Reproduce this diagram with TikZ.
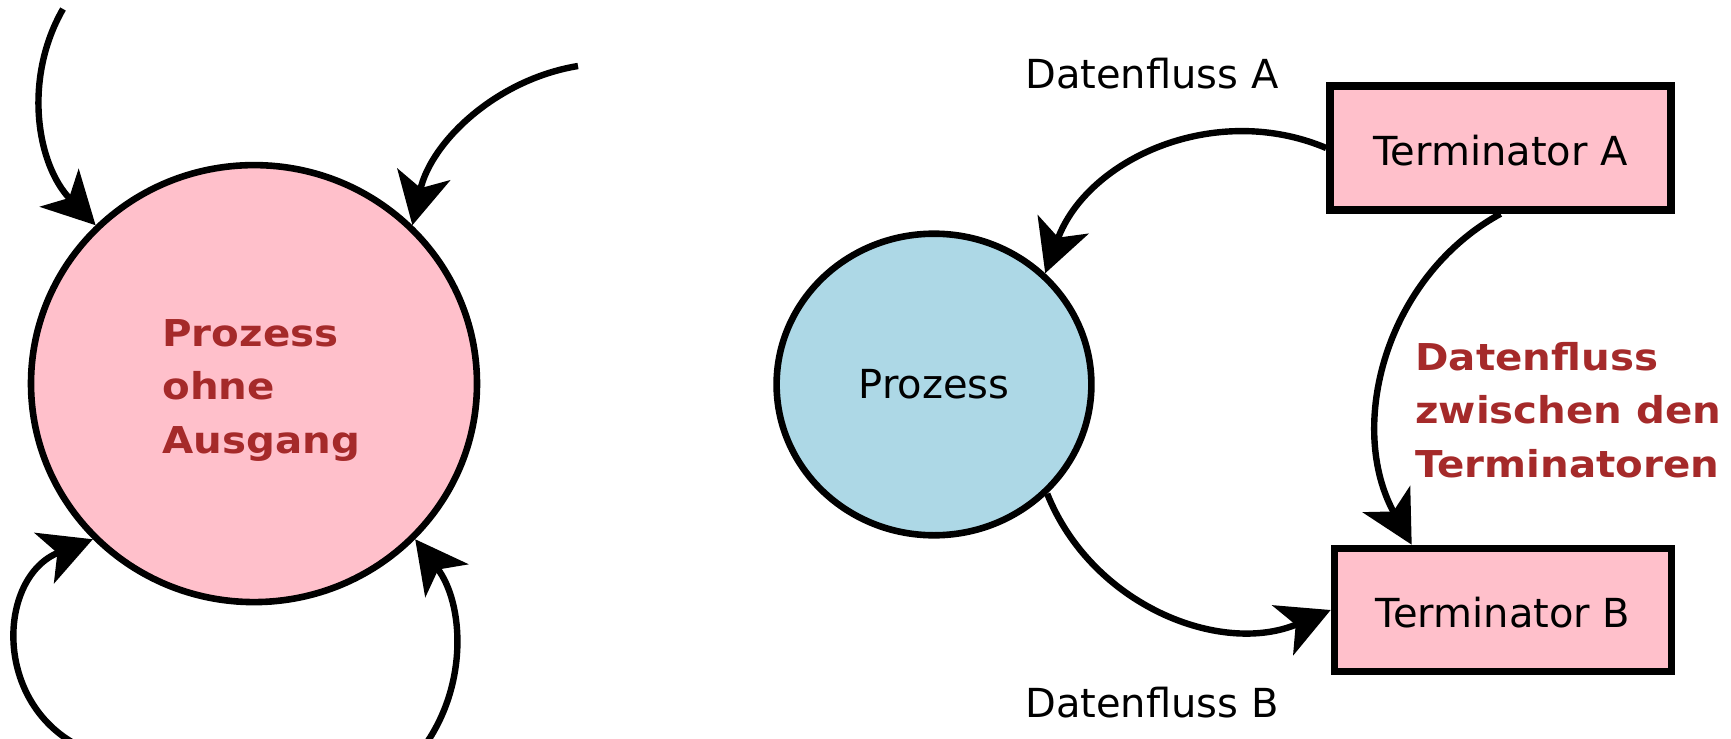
\documentclass[tikz,border=0pt]{standalone}
\usepackage{fontspec}
\setmainfont{DejaVu Sans}
\newfontfamily\widefont[FakeStretch=1.09]{DejaVu Sans}
\usetikzlibrary{arrows.meta,shapes.geometric,calc}
\definecolor{procpink}{HTML}{FFC0CB}
\definecolor{procblue}{HTML}{ADD8E6}
\definecolor{notered}{HTML}{A52A2A}
\begin{document}
\begin{tikzpicture}[x=0.5pt,y=0.5pt,
  flow/.style={line width=3.2pt, -{Stealth[length=26pt,width=27pt,inset=7pt]}},
  bubble/.style={ellipse, draw, line width=3.3pt, inner sep=0pt},
  term/.style={rectangle, draw, line width=3.8pt, fill=procpink, inner sep=0pt, text height=17.2pt, text depth=0pt},
  plain/.style={inner sep=0pt, font=\fontsize{20pt}{24pt}\selectfont},
  note/.style={text=notered, font=\widefont\bfseries\fontsize{18.5pt}{26.8pt}\selectfont, align=left, inner sep=0pt}
]
\useasboundingbox (0,0) rectangle (1731,-739);

% process without output (sink)
\node[bubble, fill=procpink, minimum width=223pt, minimum height=218.5pt] (sink) at (254,-383.6) {};
\node[note, anchor=north west] (sinklabel) at (162,-319) {Prozess\\ohne\\Ausgang};

% process with terminators
\node[bubble, plain, fill=procblue, minimum width=157.4pt, minimum height=150.8pt] (proc) at (934,-384.5) {Prozess};
\node[term, plain, minimum width=170.5pt, minimum height=62pt] (ta) at (1500.5,-148) {Terminator A};
\node[term, plain, minimum width=168.5pt, minimum height=61.5pt] (tb) at (1503,-610) {Terminator B};

\node[plain, anchor=base] (fa) at (1152,-88) {Datenfluss A};
\node[plain, anchor=base] (fb) at (1152,-717) {Datenfluss B};
\node[note, anchor=north west] (tnote) at (1415,-341.5) {Datenfluss\\zwischen den\\Terminatoren};

% loose ends of the incoming flows
\coordinate (in1) at (63,-9);
\coordinate (in2) at (578,-66);
\coordinate (in3) at (83.4,-748.2);
\coordinate (in4) at (421.6,-749.9);

\draw[flow] (in1) .. controls (22.9,-78.8) and (36.6,-164.6) .. (sink.135);
\draw[flow] (in2) .. controls (496.2,-79.4) and (431,-141.8) .. (sink.45);
\draw[flow] (in3) .. controls (-8.6,-705.3) and (-2.8,-576.3) .. (sink.224);
\draw[flow] (in4) .. controls (468.9,-687.2) and (464.3,-603.6) .. (sink.-44);

\draw[flow] (ta.west) .. controls (1214.5,-100.8) and (1087,-159.1) .. (proc.45);
\draw[flow] (ta.south) .. controls (1384.7,-277.4) and (1346.5,-427.2) .. ($(tb.north west)+(81,0)$);
\draw[flow] (proc.-44) .. controls (1091.9,-605.3) and (1220.7,-656.4) .. (tb.west);
\end{tikzpicture}
\end{document}
